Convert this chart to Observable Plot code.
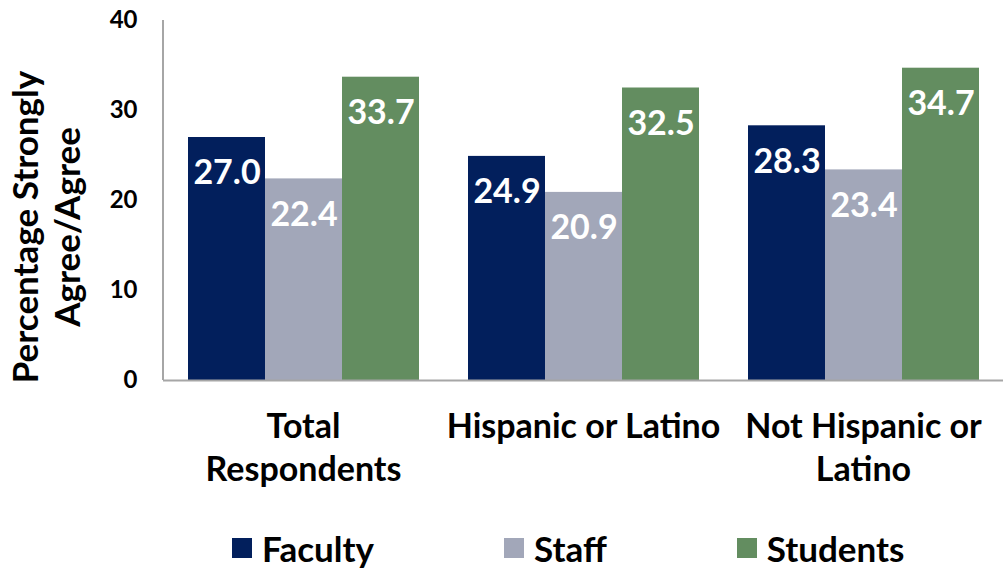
<!DOCTYPE html>
<html><head><meta charset="utf-8">
<script src="https://cdn.jsdelivr.net/npm/d3@7"></script>
<script src="https://cdn.jsdelivr.net/npm/@observablehq/plot@0.6"></script>
<style>
body{margin:0;background:#fff;font-family:Lato, sans-serif;}
#legend{display:flex;gap:130px;padding-left:232px;height:45px;align-items:center;font-weight:700;font-size:35px;color:#000;}
.item{display:flex;align-items:center;}
.sw{width:20px;height:20px;margin-right:10px;}
</style></head><body><div id="chart"></div><div id="legend"></div>
<script>
const groups = ["Total Respondents","Hispanic or Latino","Not Hispanic or Latino"];
const groupLabels = ["Total\nRespondents","Hispanic or Latino","Not Hispanic or\nLatino"];
const series = ["Faculty","Staff","Students"];
const colors = ["#021f5c","#a2a7b9","#638d60"];
const faculty = [27.0,24.9,28.3];
const staff = [22.4,20.9,23.4];
const students = [33.7,32.5,34.7];
const yTicks = [0,10,20,30,40];
const yTitle = ["Percentage Strongly","Agree/Agree"];

const values = {Faculty: faculty, Staff: staff, Students: students};
const data = groups.flatMap((g,i) => series.map(s => ({group:g, series:s, value:values[s][i]})));

const plot = Plot.plot({
  width:1003, height:525, marginLeft:163, marginRight:0, marginTop:20, marginBottom:145,
  style:{fontFamily:"Lato, sans-serif", fontWeight:700, color:"#000", background:"#fff", overflow:"visible"},
  fx:{domain:groups, padding:0, label:null},
  x:{domain:series, paddingInner:0, paddingOuter:0.3, axis:null},
  y:{domain:[0,40], ticks:yTicks, label:null},
  color:{domain:series, range:colors},
  marks:[
    Plot.barY(data, {fx:"group", x:"series", y:"value", fill:"series"}),
    Plot.ruleY([0], {stroke:"#a6a6a6", strokeWidth:2}),
    Plot.text(data, {fx:"group", x:"series", y:"value", text:d => d.value.toFixed(1), dy:36, fill:"white", fontSize:34, fontWeight:700, lineAnchor:"middle"}),
    Plot.axisY({ticks:yTicks, tickSize:0, tickPadding:26, fontSize:24, label:null}),
    Plot.axisFx({anchor:"bottom", tickSize:0, tickPadding:27, fontSize:34, lineHeight:1.27, label:null,
      tickFormat: g => groupLabels[groups.indexOf(g)]})
  ]
});
document.getElementById("chart").appendChild(plot);

const svg = d3.select(plot.tagName.toLowerCase()==="svg" ? plot : plot.querySelector("svg"));
const y = plot.scale("y");
svg.append("line").attr("x1",163).attr("x2",163)
  .attr("y1", y.apply(40)).attr("y2", y.apply(0))
  .attr("stroke","#a6a6a6").attr("stroke-width",2);
const cy = (y.apply(0)+y.apply(40))/2 + 27;
const t = svg.append("text").attr("transform",`translate(48,${cy}) rotate(-90)`)
  .attr("text-anchor","middle").attr("font-size",35).attr("font-weight",700).attr("fill","#000");
yTitle.forEach((s,i) => t.append("tspan").attr("x",0).attr("dy", i===0 ? "-0.3em" : "1.2em").text(s));

const legend = d3.select("#legend");
series.forEach((s,i) => {
  const it = legend.append("div").attr("class","item");
  it.append("div").attr("class","sw").style("background", colors[i]);
  it.append("span").text(s);
});
</script></body></html>
